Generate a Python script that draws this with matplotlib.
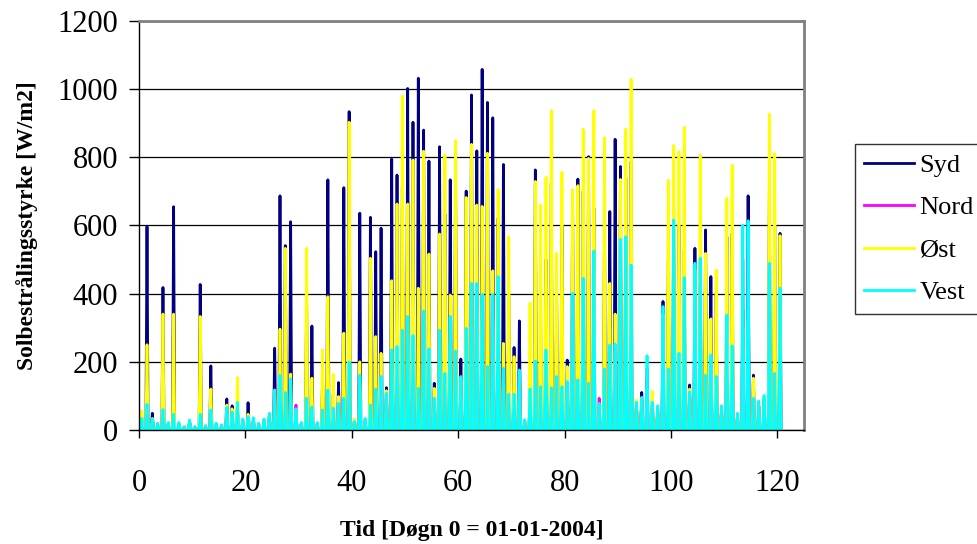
import matplotlib.pyplot as plt
import numpy as np

plt.rcParams["font.family"] = ["Liberation Serif", "DejaVu Serif"]

# daily peak irradiance (W/m2), day 0 = 01-01-2004
days = np.arange(121)
syd = [40, 597, 49, 15, 418, 18, 655, 18, 8, 25,
       8, 427, 10, 188, 16, 12, 91, 71, 70, 28,
       80, 30, 16, 28, 42, 240, 687, 541, 611, 55,
       18, 386, 305, 18, 150, 734, 103, 139, 711, 934,
       30, 636, 28, 624, 523, 592, 124, 795, 748, 714,
       1002, 903, 1032, 880, 789, 137, 831, 633, 734, 783,
       208, 701, 983, 819, 1058, 961, 916, 621, 779, 391,
       242, 320, 25, 100, 763, 300, 500, 724, 400, 600,
       205, 690, 736, 700, 802, 650, 70, 600, 641, 853,
       773, 740, 787, 80, 110, 150, 90, 60, 377, 500,
       670, 600, 528, 132, 533, 500, 587, 450, 400, 60,
       567, 577, 40, 352, 687, 161, 70, 90, 724, 600,
       577]
nord = [25, 50, 25, 15, 45, 18, 40, 18, 8, 25,
        8, 40, 10, 45, 16, 12, 55, 45, 60, 28,
        35, 30, 16, 28, 42, 90, 120, 90, 110, 73,
        18, 80, 60, 18, 50, 100, 55, 70, 80, 150,
        25, 130, 28, 60, 100, 130, 95, 190, 200, 240,
        270, 230, 100, 280, 200, 80, 240, 140, 270, 190,
        130, 240, 350, 350, 320, 150, 320, 360, 150, 90,
        90, 140, 25, 100, 170, 100, 190, 100, 130, 100,
        120, 320, 120, 360, 110, 420, 93, 140, 200, 200,
        450, 450, 380, 75, 90, 180, 70, 60, 300, 150,
        500, 180, 380, 100, 420, 420, 140, 190, 140, 60,
        290, 210, 40, 500, 520, 80, 70, 90, 420, 140,
        360]
ost = [56, 250, 34, 18, 340, 20, 340, 20, 9, 27,
       9, 333, 12, 120, 18, 13, 73, 62, 154, 30,
       46, 33, 18, 30, 45, 117, 296, 533, 164, 60,
       20, 533, 152, 20, 235, 391, 163, 98, 284, 903,
       32, 200, 30, 504, 274, 225, 115, 438, 663, 980,
       663, 792, 416, 818, 516, 122, 575, 807, 396, 849,
       150, 682, 838, 660, 656, 812, 467, 705, 254, 567,
       215, 160, 28, 372, 729, 660, 741, 937, 518, 756,
       186, 705, 717, 883, 797, 937, 75, 858, 430, 340,
       735, 883, 1029, 88, 95, 120, 114, 65, 340, 733,
       835, 817, 888, 120, 469, 806, 518, 326, 469, 65,
       680, 777, 45, 300, 318, 152, 75, 95, 927, 811,
       570]
vest = [34, 75, 32, 20, 60, 22, 46, 22, 10, 29,
        10, 46, 13, 59, 20, 15, 66, 52, 81, 32,
        39, 36, 20, 32, 49, 117, 160, 110, 150, 62,
        22, 93, 68, 22, 59, 117, 64, 78, 93, 199,
        25, 161, 34, 73, 120, 157, 108, 235, 245, 293,
        333, 277, 122, 349, 238, 93, 293, 166, 333, 232,
        157, 298, 430, 430, 398, 186, 398, 450, 181, 105,
        105, 176, 30, 120, 202, 127, 235, 124, 157, 127,
        142, 401, 147, 445, 137, 525, 78, 179, 249, 252,
        559, 567, 484, 81, 95, 218, 81, 71, 362, 179,
        616, 225, 447, 112, 489, 504, 161, 220, 157, 71,
        337, 247, 49, 601, 614, 93, 85, 101, 489, 166,
        416]

series = [("Syd", syd, "#000080"), ("Nord", nord, "#FF00FF"),
          ("Øst", ost, "#FFFF00"), ("Vest", vest, "#00FFFF")]

# sunrise / noon / sunset for each day
day_frac = [0.3, 0.5, 0.7]
t = (days[:, None] + np.array(day_frac)[None, :]).ravel()

fig = plt.figure(figsize=(9.77, 5.44), dpi=100)
ax = fig.add_axes([0.1423, 0.2096, 0.6806, 0.7518])

for name, peaks, color in series:
    p = np.asarray(peaks, dtype=float)
    y = np.column_stack([np.zeros_like(p), p, np.zeros_like(p)]).ravel()
    ax.plot(t, y, color=color, lw=2, label=name)

ax.set_xlim(0, 125)
ax.set_ylim(0, 1200)
ax.set_xticks(np.arange(0, 121, 20))
ax.set_yticks(np.arange(0, 1201, 200))
ax.grid(True, axis="y", color="black", lw=0.9)
ax.set_axisbelow(True)

for s in ["left", "bottom"]:
    ax.spines[s].set_color("black")
    ax.spines[s].set_linewidth(1)
for s in ["top", "right"]:
    ax.spines[s].set_color("#808080")
    ax.spines[s].set_linewidth(2)

ax.tick_params(axis="y", direction="out", length=7, width=1, labelsize=22, pad=8)
ax.tick_params(axis="x", direction="out", length=6, width=1, labelsize=22, pad=22)

ax.set_ylabel("Solbestrålingsstyrke [W/m2]", fontsize=17, fontweight="bold", labelpad=14)
ax.set_xlabel("Tid [Døgn 0 = 01-01-2004]", fontsize=17, fontweight="bold", labelpad=16)

leg = fig.legend(loc="upper left", bbox_to_anchor=(0.875, 0.735), fontsize=19,
                 frameon=True, fancybox=False, edgecolor="black", handlelength=1.9,
                 handletextpad=0.2, labelspacing=0.72, borderpad=0.35, borderaxespad=0)
leg.get_frame().set_linewidth(1)

fig.savefig("out.png")
